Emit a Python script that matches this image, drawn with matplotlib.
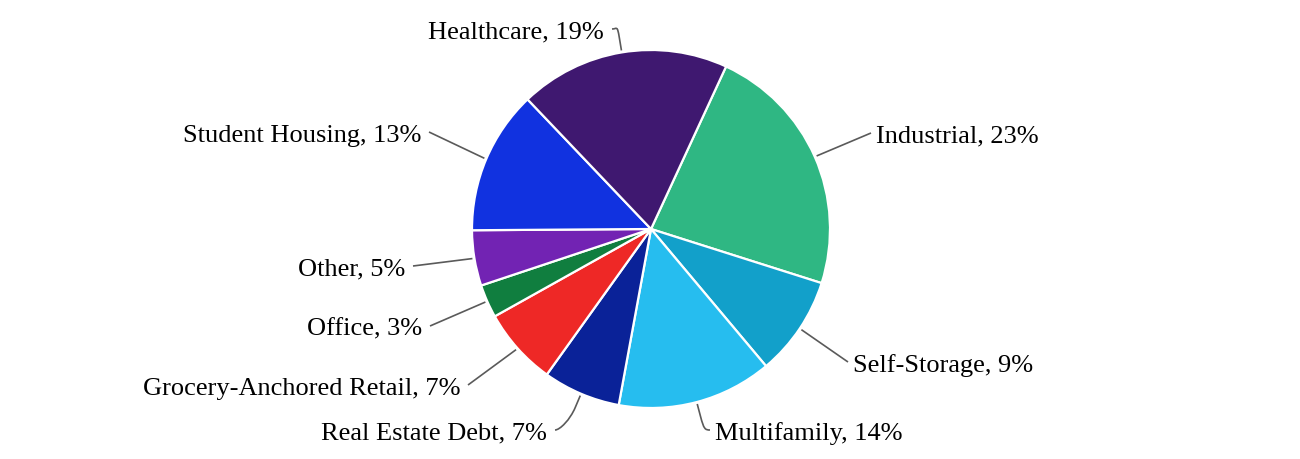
import numpy as np
import matplotlib
matplotlib.use('Agg')
import matplotlib.pyplot as plt
from matplotlib.path import Path
from matplotlib.patches import PathPatch

# ---- data ----
categories = ['Industrial', 'Self-Storage', 'Multifamily', 'Real Estate Debt',
              'Grocery-Anchored Retail', 'Office', 'Other', 'Student Housing',
              'Healthcare']
shares = [23, 9, 14, 7, 7, 3, 5, 13, 19]
colors = ['#2fb783', '#12a0ca', '#26bdef', '#0a2298', '#ee2826',
          '#107e3f', '#7223b3', '#1132e0', '#3f1870']

# ---- layout: label connector end points (pixel coords, y downward) ----
label_anchor_px = [(871, 134), (848, 363), (710, 431), (555, 431), (468, 386),
                   (430, 327), (413, 267), (429, 133), (612, 30)]

W, H = 1300, 460
fig = plt.figure(figsize=(13, 4.6), dpi=100)
ax = fig.add_axes([0, 0, 1, 1])

cx, cy, r = 651, H - 230, 179
wedges, _ = ax.pie(shares, colors=colors, startangle=65.2, counterclock=False,
                   center=(cx, cy), radius=r,
                   wedgeprops=dict(edgecolor='white', linewidth=1.6))
ax.set_xlim(0, W)
ax.set_ylim(0, H)
ax.set_aspect('equal')
ax.axis('off')

fs = 19
fpx = fs * 100 / 72
for w, cat, sh, (lx, ly) in zip(wedges, categories, shares, label_anchor_px):
    mid = np.deg2rad((w.theta1 + w.theta2) / 2)
    c, s = np.cos(mid), np.sin(mid)
    E = np.array([cx + (r + 2) * c, cy + (r + 2) * s])
    L = np.array([lx, H - ly])
    right = lx > cx
    if abs(c) < 0.5:
        B = np.array([cx + (r + 15) * c, cy + (r + 15) * s])
        c1 = (L[0] - 5, L[1]) if right else (L[0] + 5, L[1])
        c2 = 2 * B - E
        verts = [tuple(L), c1, tuple(c2), tuple(B), tuple(E)]
        codes = [Path.MOVETO, Path.CURVE4, Path.CURVE4, Path.CURVE4, Path.LINETO]
    else:
        verts = [tuple(L), tuple(E)]
        codes = [Path.MOVETO, Path.LINETO]
    ax.add_patch(PathPatch(Path(verts, codes), facecolor='none',
                           edgecolor='#5a5a5a', linewidth=1.2))
    txt = f'{cat}, {sh}%'
    yb = L[1] - 0.33 * fpx
    if right:
        ax.text(L[0] + 5, yb, txt, ha='left', va='baseline', fontsize=fs,
                family='Liberation Serif', color='black')
    else:
        ax.text(L[0] - 8, yb, txt, ha='right', va='baseline', fontsize=fs,
                family='Liberation Serif', color='black')

fig.savefig('out.png', dpi=100, facecolor='white')
